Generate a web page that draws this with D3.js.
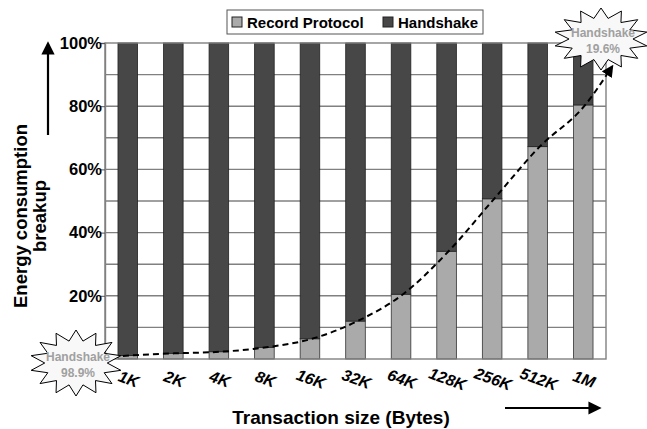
<!DOCTYPE html>
<html>
<head>
<meta charset="utf-8">
<script src="https://cdn.jsdelivr.net/npm/d3@7"></script>
<style>
  body { margin: 0; background: #fff; }
  text { font-family: "Liberation Sans", Arial, sans-serif; font-weight: bold; }
</style>
</head>
<body>
<script>
// data
var sizes = ["1K", "2K", "4K", "8K", "16K", "32K", "64K", "128K", "256K", "512K", "1M"];
var recordPct = [1.1, 1.8, 2.3, 3.7, 6.4, 12.0, 20.5, 34.1, 50.7, 67.2, 80.4];
var handshakePct = recordPct.map(function(v) { return +(100 - v).toFixed(1); });
var yTicks = [20, 40, 60, 80, 100];
var gridVals = [10, 20, 30, 40, 50, 60, 70, 80, 90];
var seriesNames = ["Record Protocol", "Handshake"];

var w = 647, h = 429;
var plotL = 105, plotR = 606, plotT = 43, plotB = 359;
var colRecord = "#aaaaaa", colHand = "#474747";

var svg = d3.select("body").append("svg")
    .attr("width", w)
    .attr("height", h);

var defs = svg.append("defs");
defs.append("marker")
    .attr("id", "tip")
    .attr("viewBox", "0 0 10 10")
    .attr("refX", 8).attr("refY", 5)
    .attr("markerWidth", 6).attr("markerHeight", 6)
    .attr("orient", "auto")
  .append("path")
    .attr("d", "M0,0 L10,5 L0,10 z")
    .attr("fill", "#000");

var xScale = d3.scaleBand()
    .domain(sizes)
    .range([plotL, plotR])
    .paddingInner(0.57)
    .paddingOuter(0.285);

var yScale = d3.scaleLinear()
    .domain([0, 100])
    .range([plotB, plotT]);

// plot background
svg.append("rect")
    .attr("x", plotL).attr("y", plotT)
    .attr("width", plotR - plotL).attr("height", plotB - plotT)
    .attr("fill", "#fff");

// horizontal grid
svg.selectAll("line.grid")
    .data(gridVals)
    .enter().append("line")
    .attr("class", "grid")
    .attr("x1", plotL).attr("x2", plotR)
    .attr("y1", function(d) { return yScale(d); })
    .attr("y2", function(d) { return yScale(d); })
    .attr("stroke", "#808080")
    .attr("stroke-width", 1.4);

// stacked bars
var rows = sizes.map(function(s, i) { return {size: s, rec: recordPct[i], hs: handshakePct[i]}; });

svg.selectAll("rect.rec")
    .data(rows)
    .enter().append("rect")
    .attr("class", "rec")
    .attr("x", function(d) { return xScale(d.size); })
    .attr("width", xScale.bandwidth())
    .attr("y", function(d) { return yScale(d.rec); })
    .attr("height", function(d) { return yScale(0) - yScale(d.rec); })
    .attr("fill", colRecord)
    .attr("stroke", "#333")
    .attr("stroke-width", 0.8);

svg.selectAll("rect.hs")
    .data(rows)
    .enter().append("rect")
    .attr("class", "hs")
    .attr("x", function(d) { return xScale(d.size); })
    .attr("width", xScale.bandwidth())
    .attr("y", yScale(100))
    .attr("height", function(d) { return yScale(d.rec) - yScale(100); })
    .attr("fill", colHand)
    .attr("stroke", "#222")
    .attr("stroke-width", 0.8);

// plot frame
svg.append("rect")
    .attr("x", plotL).attr("y", plotT)
    .attr("width", plotR - plotL).attr("height", plotB - plotT)
    .attr("fill", "none")
    .attr("stroke", "#808080")
    .attr("stroke-width", 1.4);

// y axis
var yAxis = d3.axisLeft(yScale)
    .tickValues(yTicks)
    .tickSize(4)
    .tickFormat(function(d) { return d + "%"; });

var gY = svg.append("g")
    .attr("transform", "translate(" + plotL + ",0)")
    .call(yAxis);
gY.select(".domain").attr("stroke", "#808080").attr("stroke-width", 1.4);
gY.selectAll(".tick line").attr("stroke", "#555");
gY.selectAll(".tick text")
    .attr("x", -3)
    .style("font-size", "16.5px")
    .attr("fill", "#000");

// x tick labels, tilted
svg.selectAll("text.xt")
    .data(sizes)
    .enter().append("text")
    .attr("class", "xt")
    .attr("transform", function(d) {
      return "translate(" + (xScale(d) + xScale.bandwidth() / 2 + 1) + ",379) rotate(20)";
    })
    .attr("text-anchor", "middle")
    .attr("dy", "0.35em")
    .style("font-size", "16px")
    .style("font-style", "italic")
    .text(function(d) { return d; });

// dashed trend curve over the record tops
var trend = rows.map(function(d) { return [xScale(d.size) + xScale.bandwidth() / 2 + 2, yScale(d.rec)]; });
trend.unshift([xScale(sizes[0]) - 5, yScale(recordPct[0]) + 1]);
trend.push([xScale("1M") + xScale.bandwidth() + 19, yScale(92.5)]);

svg.append("path")
    .attr("d", d3.line().curve(d3.curveMonotoneX)(trend))
    .attr("fill", "none")
    .attr("stroke", "#000")
    .attr("stroke-width", 2)
    .attr("stroke-dasharray", "6,4")
    .attr("marker-end", "url(#tip)");

// starburst call-outs
function burst(cx, cy, rx, ry, n) {
  var pts = [];
  for (var i = 0; i < n * 2; i++) {
    var a = i * Math.PI / n - Math.PI / 2;
    var k = (i % 2 === 0) ? 1 : 0.68;
    pts.push([cx + Math.cos(a) * rx * k, cy + Math.sin(a) * ry * k]);
  }
  return "M" + pts.join("L") + "Z";
}

var callouts = [
  {cx: 76, cy: 363, rx: 46, ry: 33, lines: ["Handshake", handshakePct[0] + "%"]},
  {cx: 601, cy: 39, rx: 47, ry: 31, lines: ["Handshake", handshakePct[10] + "%"]}
];

var cg = svg.selectAll("g.callout")
    .data(callouts)
    .enter().append("g")
    .attr("class", "callout");

cg.append("path")
    .attr("d", function(d) { return burst(d.cx, d.cy, d.rx, d.ry, 14); })
    .attr("fill", "#f8f8f8")
    .attr("stroke", "#000")
    .attr("stroke-width", 1);

cg.selectAll("text")
    .data(function(d) { return d.lines.map(function(t, i) { return {t: t, x: d.cx + 2, y: d.cy - 2 + i * 16}; }); })
    .enter().append("text")
    .attr("x", function(d) { return d.x; })
    .attr("y", function(d) { return d.y; })
    .attr("text-anchor", "middle")
    .attr("fill", "#a0a0a0")
    .style("font-size", "12px")
    .text(function(d) { return d.t; });

// legend
var lg = svg.append("g");
lg.append("rect")
    .attr("x", 227).attr("y", 10)
    .attr("width", 256).attr("height", 24)
    .attr("fill", "#fff")
    .attr("stroke", "#555");

var legX = [232, 383];
var items = lg.selectAll("g.li")
    .data(seriesNames)
    .enter().append("g")
    .attr("class", "li")
    .attr("transform", function(d, i) { return "translate(" + legX[i] + ",17)"; });
items.append("rect")
    .attr("width", 10).attr("height", 10)
    .attr("fill", function(d, i) { return i === 0 ? colRecord : colHand; })
    .attr("stroke", "#222");
items.append("text")
    .attr("x", 15).attr("y", 10.5)
    .style("font-size", "15px")
    .text(function(d) { return d; });

// axis titles
svg.append("text")
    .attr("x", 341).attr("y", 424)
    .attr("text-anchor", "middle")
    .style("font-size", "19px")
    .text("Transaction size (Bytes)");

var yt = svg.append("text")
    .attr("transform", "translate(27,216) rotate(-90)")
    .attr("text-anchor", "middle")
    .style("font-size", "18.5px");
yt.append("tspan").attr("x", 0).attr("y", 0).text("Energy consumption");
yt.append("tspan").attr("x", 0).attr("y", 19).text("breakup");

// direction arrows
svg.append("line")
    .attr("x1", 48).attr("y1", 135).attr("x2", 48).attr("y2", 44)
    .attr("stroke", "#000").attr("stroke-width", 2.2)
    .attr("marker-end", "url(#tip)");
svg.append("line")
    .attr("x1", 505).attr("y1", 408).attr("x2", 599).attr("y2", 408)
    .attr("stroke", "#000").attr("stroke-width", 2.2)
    .attr("marker-end", "url(#tip)");
</script>
</body>
</html>
